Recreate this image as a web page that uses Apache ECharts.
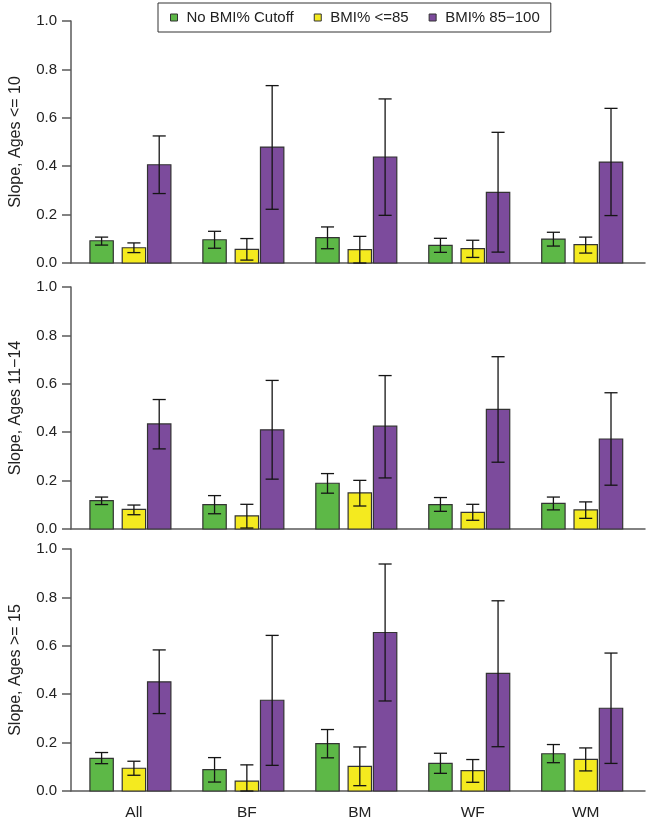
<!DOCTYPE html>
<html>
<head>
<meta charset="utf-8">
<script src="https://cdn.jsdelivr.net/npm/echarts@6/dist/echarts.min.js"></script>
<style>
  html, body { margin: 0; padding: 0; background: #fff; }
  #main { width: 648px; height: 823px; }
</style>
</head>
<body>
<div id="main"></div>
<script>
var cats = ['All', 'BF', 'BM', 'WF', 'WM']
var panelNames = ['Slope, Ages <= 10', 'Slope, Ages 11\u221214', 'Slope, Ages >= 15']
var groupNames = ['No BMI% Cutoff', 'BMI% <=85', 'BMI% 85\u2212100']
var yTicks = [0, 0.2, 0.4, 0.6, 0.8, 1.0]

// one row per panel (<=10, 11-14, >=15)
var noCutMean = [
  [0.092, 0.096, 0.105, 0.073, 0.099],
  [0.117, 0.101, 0.189, 0.101, 0.106],
  [0.135, 0.088, 0.196, 0.114, 0.154]
]
var noCutLo = [
  [0.074, 0.061, 0.059, 0.044, 0.070],
  [0.101, 0.063, 0.148, 0.073, 0.079],
  [0.113, 0.037, 0.137, 0.073, 0.117]
]
var noCutHi = [
  [0.107, 0.131, 0.149, 0.102, 0.127],
  [0.132, 0.138, 0.229, 0.130, 0.132],
  [0.159, 0.138, 0.254, 0.156, 0.192]
]

var lowMean = [
  [0.063, 0.056, 0.055, 0.059, 0.076],
  [0.081, 0.054, 0.149, 0.069, 0.079],
  [0.094, 0.041, 0.102, 0.084, 0.131]
]
var lowLo = [
  [0.043, 0.012, 0.000, 0.023, 0.041],
  [0.059, 0.004, 0.095, 0.036, 0.044],
  [0.065, 0.000, 0.022, 0.036, 0.083]
]
var lowHi = [
  [0.083, 0.101, 0.110, 0.094, 0.107],
  [0.099, 0.102, 0.201, 0.102, 0.112],
  [0.123, 0.108, 0.182, 0.130, 0.178]
]

var highMean = [
  [0.406, 0.479, 0.438, 0.292, 0.417],
  [0.434, 0.410, 0.425, 0.494, 0.372],
  [0.451, 0.375, 0.655, 0.486, 0.342]
]
var highLo = [
  [0.287, 0.222, 0.197, 0.045, 0.196],
  [0.331, 0.206, 0.211, 0.276, 0.181],
  [0.320, 0.106, 0.372, 0.183, 0.114]
]
var highHi = [
  [0.525, 0.733, 0.678, 0.540, 0.639],
  [0.535, 0.614, 0.634, 0.712, 0.563],
  [0.583, 0.643, 0.938, 0.786, 0.570]
]

var colors = ['#5db847', '#f4ea1f', '#7c4b9c']
var offsets = [-0.262, 0.024, 0.248]   // bar centre offset within a category
var barW = 0.207
var FONT = "'Liberation Sans', Arial, sans-serif"
var axisColor = '#5a5a5a'

var gridTops = [21, 287, 549]
var gridH = 242

var chart = echarts.init(document.getElementById('main'))

function makeSeries(g, p, mean, lo, hi) {
  var off = offsets[g]
  var color = colors[g]
  return {
    type: 'custom',
    name: groupNames[g],
    xAxisIndex: p,
    yAxisIndex: p,
    itemStyle: { color: color },
    encode: { x: 0, y: [1, 2, 3] },
    data: mean.map(function(v, i) { return [i, v, lo[i], hi[i]] }),
    renderItem: function(params, api) {
      var x = api.value(0) + off
      var base = api.coord([x, 0])
      var top = api.coord([x, api.value(1)])
      var pLo = api.coord([x, api.value(2)])
      var pHi = api.coord([x, api.value(3)])
      var w = api.size([barW, 0])[0]
      var cap = w * 0.28
      var errStyle = { stroke: '#151515', lineWidth: 1.3 }
      return {
        type: 'group',
        children: [
          { type: 'rect', shape: { x: base[0] - w / 2, y: top[1], width: w, height: base[1] - top[1] },
            style: { fill: color, stroke: '#333', lineWidth: 1.2 } },
          { type: 'line', shape: { x1: base[0], y1: pLo[1], x2: base[0], y2: pHi[1] }, style: errStyle },
          { type: 'line', shape: { x1: base[0] - cap, y1: pLo[1], x2: base[0] + cap, y2: pLo[1] }, style: errStyle },
          { type: 'line', shape: { x1: base[0] - cap, y1: pHi[1], x2: base[0] + cap, y2: pHi[1] }, style: errStyle }
        ]
      }
    }
  }
}

var grids = [], xAxes = [], yAxes = [], series = []
for (var p = 0; p < 3; p++) {
  grids.push({ left: 67, right: 3, top: gridTops[p], height: gridH })
  xAxes.push({
    type: 'value', gridIndex: p, min: -0.533, max: 4.549,
    axisLine: { show: true, onZero: false, lineStyle: { color: axisColor, width: 1.5 } },
    axisTick: { show: false },
    splitLine: { show: false },
    axisLabel: {
      show: p === 2,
      customValues: cats.map(function(c, i) { return i + offsets[1] }),
      formatter: function(v) { return cats[Math.round(v)] },
      fontFamily: FONT, fontSize: 15.5, color: '#222', margin: 14
    }
  })
  yAxes.push({
    type: 'value', gridIndex: p, min: 0, max: 1, interval: 0.2,
    name: panelNames[p], nameLocation: 'middle', nameGap: 47,
    nameTextStyle: { fontFamily: FONT, fontSize: 16, color: '#222' },
    axisLine: { show: true, onZero: false, lineStyle: { color: axisColor, width: 1.5 } },
    axisTick: { show: true, length: 9, lineStyle: { color: axisColor, width: 1.5 } },
    splitLine: { show: false },
    axisLabel: {
      fontFamily: FONT, fontSize: 15, color: '#222', margin: 14,
      customValues: yTicks,
      formatter: function(v) { return v.toFixed(1) }
    }
  })
  series.push(makeSeries(0, p, noCutMean[p], noCutLo[p], noCutHi[p]))
  series.push(makeSeries(1, p, lowMean[p], lowLo[p], lowHi[p]))
  series.push(makeSeries(2, p, highMean[p], highLo[p], highHi[p]))
}

var option = {
  animation: false,
  backgroundColor: '#fff',
  legend: {
    left: 158, top: 3,
    padding: [7, 11, 7, 12],
    borderColor: '#333', borderWidth: 1,
    itemGap: 20, itemWidth: 7, itemHeight: 7,
    icon: 'rect',
    itemStyle: { borderColor: '#333', borderWidth: 1 },
    textStyle: { fontFamily: FONT, fontSize: 15, color: '#222', padding: [0, 0, 0, 4] },
    data: [
      { name: groupNames[0] },
      { name: groupNames[1], textStyle: { width: 86 } },
      { name: groupNames[2] }
    ]
  },
  grid: grids,
  xAxis: xAxes,
  yAxis: yAxes,
  series: series
}

chart.setOption(option)
</script>
</body>
</html>
